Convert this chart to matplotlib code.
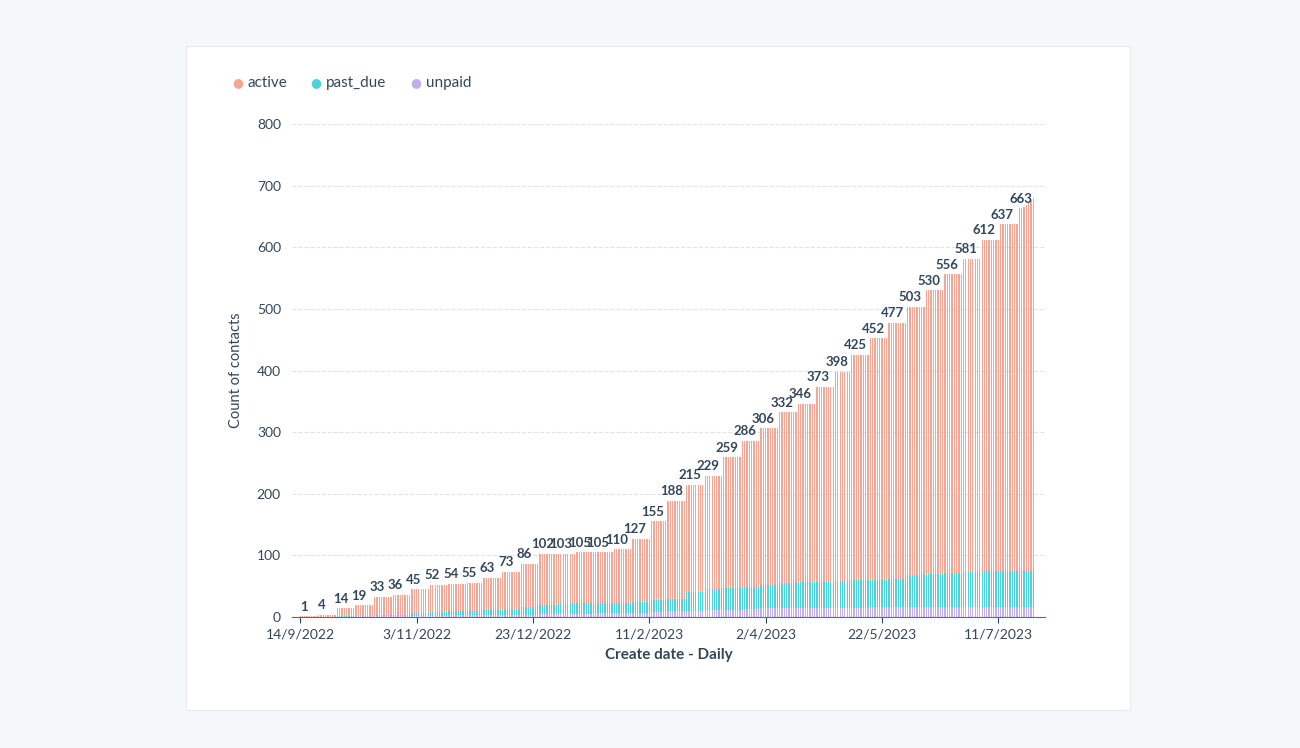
import numpy as np
import matplotlib.pyplot as plt
from matplotlib.patches import Rectangle

plt.rcParams['font.family'] = ['Lato', 'DejaVu Sans']

# weekly totals shown as labels (held for each ~8 day block)
totals = [1, 4, 14, 19, 33, 36, 45, 52, 54, 55, 63, 73, 86, 102, 103, 105, 105, 110,
          127, 155, 188, 215, 229, 259, 286, 306, 332, 346, 373, 398, 425, 452, 477,
          503, 530, 556, 581, 612, 637, 663]
past_due_top = [0, 0, 1, 2, 3, 4, 6, 8, 10, 10, 11, 12, 16, 20, 22, 22, 23, 23,
                25, 27, 30, 40, 45, 47, 48, 52, 55, 56, 57, 58, 60, 60, 62, 68,
                70, 72, 73, 74, 75, 75]
unpaid = [0, 0, 0, 1, 1, 1, 2, 2, 3, 3, 3, 4, 4, 5, 5, 5, 6, 6,
          7, 8, 9, 10, 11, 12, 13, 14, 15, 15, 15, 15, 15, 16, 16, 16,
          16, 16, 16, 17, 17, 17]
tick_labels = ['14/9/2022', '3/11/2022', '23/12/2022', '11/2/2023', '2/4/2023', '22/5/2023', '11/7/2023']

block = 7.9
ndays = 316
days = np.arange(ndays)
idx = np.minimum((days / block).astype(int), len(totals) - 1)
tot_d = np.array(totals)[idx].astype(float)
pd_d = np.array(past_due_top)[idx]
un_d = np.array(unpaid)[idx]
# last few bars rise past the last label
tot_d[-5:] = [665, 668, 672, 676, 680]

fig = plt.figure(figsize=(13, 7.48), dpi=100)
fig.patch.set_facecolor('#f5f8fb')
fig.add_artist(Rectangle((186/1300, 1-710/748), 944/1300, 664/748, transform=fig.transFigure,
                         facecolor='white', edgecolor='#e6eaf0', lw=0.8, zorder=0))
ax = fig.add_axes([292/1300, 1-617/748, 753/1300, 493/748])
ax.set_facecolor('none')

c_act, c_pd, c_un = '#f6a493', '#4fd1d9', '#bfaef0'
w = 0.55
ax.bar(days, un_d, width=w, color=c_un, lw=0)
ax.bar(days, pd_d - un_d, bottom=un_d, width=w, color=c_pd, lw=0)
ax.bar(days, tot_d - pd_d, bottom=pd_d, width=w, color=c_act, lw=0)

for i, t in enumerate(totals):
    ax.text(i * block + 1.5, t + 6, str(t), ha='center', va='bottom', fontsize=9.5,
            fontweight='bold', color='#33475b')

ax.set_xlim(-3.5, 320)
ax.set_ylim(0, 800)
ax.set_yticks(range(0, 801, 100))
ax.set_xticks([0, 50, 100, 150, 200, 250, 300])
ax.set_xticklabels(tick_labels)
ax.tick_params(axis='both', length=0, labelsize=10, labelcolor='#33475b', pad=8)
ax.tick_params(axis='x', length=4, color='#33475b', pad=4)
ax.grid(axis='y', ls='--', color='#dfe3eb', lw=0.8)
ax.set_axisbelow(True)
for s in ['top', 'right', 'left']:
    ax.spines[s].set_visible(False)
ax.spines['bottom'].set_color('#516f90')
ax.set_xlabel('Create date - Daily', fontsize=11, fontweight='bold', color='#33475b', labelpad=6)
ax.set_ylabel('Count of contacts', fontsize=10.5, color='#33475b', labelpad=10)

for x, lab, c in [(238, 'active', c_act), (316, 'past_due', c_pd), (416, 'unpaid', c_un)]:
    fig.text(x/1300, 1-83/748, '\u25cf', color=c, fontsize=9, va='center', ha='center',
             family='DejaVu Sans')
    fig.text((x+10)/1300, 1-83/748, lab, color='#33475b', fontsize=11, va='center')

fig.savefig('out.png', dpi=100, facecolor=fig.get_facecolor())
